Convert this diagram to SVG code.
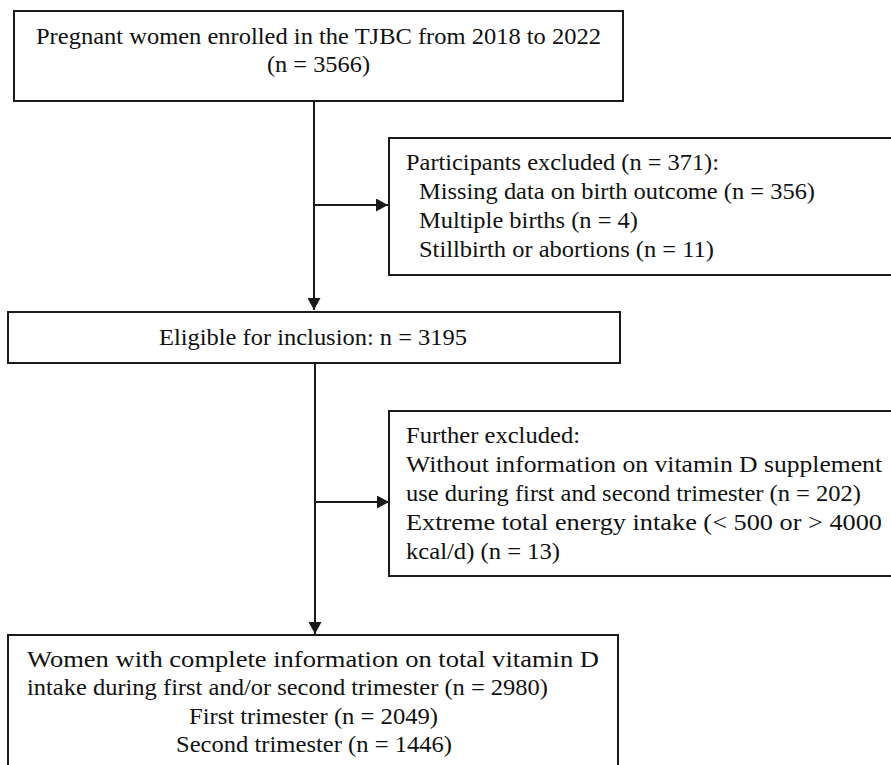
<svg xmlns="http://www.w3.org/2000/svg" width="891" height="765" viewBox="0 0 891 765">
<defs>
<style>
.box{fill:#ffffff;stroke:#1a1a1a;stroke-width:2}
.t{font-family:'Liberation Serif','Times New Roman',serif;font-size:23px;fill:#111111}
.c{fill:none;stroke:#1a1a1a;stroke-width:2}
</style>
<marker id="ah" markerUnits="userSpaceOnUse" markerWidth="12" markerHeight="13" refX="12" refY="6.5" orient="auto">
<path d="M0,0 L12,6.5 L0,13 z" fill="#1a1a1a"/>
</marker>
</defs>
<rect width="891" height="765" fill="#ffffff"/>
<g id="connectors">
<line class="c" x1="314" y1="101" x2="314" y2="310" marker-end="url(#ah)"/>
<line class="c" x1="314" y1="205" x2="388" y2="205" marker-end="url(#ah)"/>
<line class="c" x1="315" y1="363" x2="315" y2="634" marker-end="url(#ah)"/>
<line class="c" x1="315" y1="502" x2="389" y2="502" marker-end="url(#ah)"/>
</g>
<g id="n1">
<rect class="box" x="14" y="11" width="609" height="90"/>
<text class="t" x="36" y="44" textLength="565" lengthAdjust="spacingAndGlyphs">Pregnant women enrolled in the TJBC from 2018 to 2022</text>
<text class="t" x="267" y="72" textLength="103" lengthAdjust="spacingAndGlyphs">(n = 3566)</text>
</g>
<g id="n2">
<rect class="box" x="389" y="138" width="520" height="137"/>
<text class="t" x="406" y="170" textLength="313" lengthAdjust="spacingAndGlyphs">Participants excluded (n = 371):</text>
<text class="t" x="419" y="199" textLength="396" lengthAdjust="spacingAndGlyphs">Missing data on birth outcome (n = 356)</text>
<text class="t" x="419" y="228" textLength="219" lengthAdjust="spacingAndGlyphs">Multiple births (n = 4)</text>
<text class="t" x="419" y="257" textLength="295" lengthAdjust="spacingAndGlyphs">Stillbirth or abortions (n = 11)</text>
</g>
<g id="n3">
<rect class="box" x="8" y="312" width="612" height="51"/>
<text class="t" x="159" y="345" textLength="308" lengthAdjust="spacingAndGlyphs">Eligible for inclusion: n = 3195</text>
</g>
<g id="n4">
<rect class="box" x="389" y="411" width="520" height="165"/>
<text class="t" x="406" y="443" textLength="174" lengthAdjust="spacingAndGlyphs">Further excluded:</text>
<text class="t" x="406" y="472" textLength="476" lengthAdjust="spacingAndGlyphs">Without information on vitamin D supplement</text>
<text class="t" x="406" y="501" textLength="455" lengthAdjust="spacingAndGlyphs">use during first and second trimester (n = 202)</text>
<text class="t" x="406" y="530" textLength="476" lengthAdjust="spacingAndGlyphs">Extreme total energy intake (&lt; 500 or &gt; 4000</text>
<text class="t" x="406" y="559" textLength="154" lengthAdjust="spacingAndGlyphs">kcal/d) (n = 13)</text>
</g>
<g id="n5">
<rect class="box" x="8" y="635" width="610" height="150"/>
<text class="t" x="27" y="667" textLength="572" lengthAdjust="spacingAndGlyphs">Women with complete information on total vitamin D</text>
<text class="t" x="27" y="695" textLength="521" lengthAdjust="spacingAndGlyphs">intake during first and/or second trimester (n = 2980)</text>
<text class="t" x="189" y="724" textLength="249" lengthAdjust="spacingAndGlyphs">First trimester (n = 2049)</text>
<text class="t" x="176" y="752" textLength="276" lengthAdjust="spacingAndGlyphs">Second trimester (n = 1446)</text>
</g>
</svg>
